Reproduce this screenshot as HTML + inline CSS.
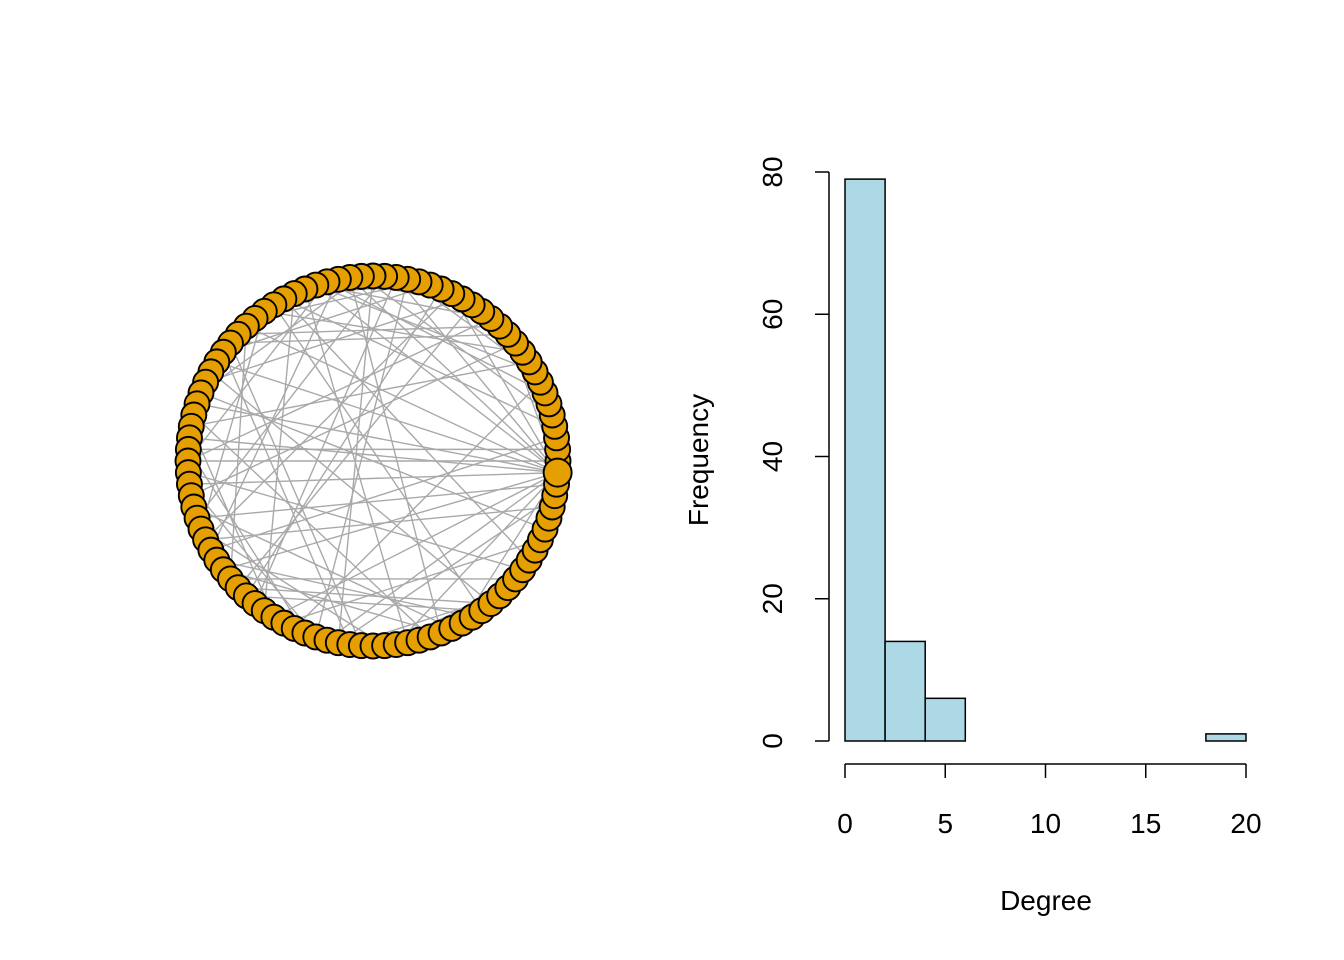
<!DOCTYPE html>
<html><head><meta charset="utf-8">
<style>
html,body{margin:0;padding:0;background:#fff;}
svg{display:block;font-family:"Liberation Sans",Arial,sans-serif;}
</style></head>
<body>
<svg id="chart" width="1344" height="960" viewBox="0 0 1344 960">
  <g id="net"></g>
  <g id="hist"></g>
  <text x="1046" y="910" font-size="28" text-anchor="middle">Degree</text>
  <text x="708" y="460" font-size="28" text-anchor="middle" transform="rotate(-90 708 460)">Frequency</text>
</svg>
<script>
// ---- network data ----
const nodeCount = 100;
const hubNode = 99;
const edges = [
[99,5],[99,12],[99,18],[99,23],[99,30],[99,37],[99,41],[99,48],[99,52],[99,60],[99,66],[99,71],[99,77],[99,83],[99,88],[99,92],[99,95],[99,45],[99,27],
[8,30],[10,35],[14,50],[16,62],[20,40],[22,70],[24,55],[26,44],[28,58],[3,33],[6,29],[9,47],[11,53],[13,38],[15,25],[17,43],[19,63],[21,36],
[31,78],[32,65],[34,85],[39,74],[42,86],[46,80],[49,69],[51,90],[54,82],[56,76],[57,96],[59,84],[61,89],[64,75],[67,93],[68,79],[72,97],[73,87],
[1,49],[2,58],[4,26],[7,68],[18,57],[23,64],[25,72],[27,81],[29,50],[33,91],[35,56],[37,61],[40,73],[44,94],[47,66],[52,70],[55,98],[60,81],[62,86],
[0,50],[12,39],[20,32],[14,30],[16,28],[24,34],[76,88],[78,90],[63,85],[8,22]
];
// ---- histogram data ----
const binEdges = [0,2,4,6,8,10,12,14,16,18,20];
const binCounts = [79,14,6,0,0,0,0,0,0,1];
const yTicks = [0,20,40,60,80];
const xTicks = [0,5,10,15,20];

const NS="http://www.w3.org/2000/svg";
function mk(tag,attrs,parent){const e=document.createElementNS(NS,tag);for(const k in attrs)e.setAttribute(k,attrs[k]);parent.appendChild(e);return e;}

const net=document.getElementById('net');
const cx=373, cy=461, R=185;
function pos(i){const a=2*Math.PI*i/nodeCount;return [cx+R*Math.cos(a), cy-R*Math.sin(a)];}
edges.forEach(([a,b])=>{
  const p=pos(a),q=pos(b);
  const l=mk('line',{x1:p[0],y1:p[1],x2:q[0],y2:q[1],stroke:'#a9a9a9','stroke-width':1.4},net);
  
  
});
for(let i=0;i<nodeCount;i++){
  const p=pos(i);
  const r = i===hubNode?14:12.5;
  const c=mk('circle',{cx:p[0],cy:p[1],r:r,fill:'#E69F00',stroke:'#000','stroke-width':1.9},net);
  
  
}

const h=document.getElementById('hist');
const x0=845,x1=1246,y0=741,y80=172;
const xs=v=>x0+(v-0)*(x1-x0)/20;
const ys=v=>y0-(v)*(y0-y80)/80;
binCounts.forEach((c,i)=>{
  const xa=xs(binEdges[i]),xb=xs(binEdges[i+1]);
  const r=mk('rect',{x:xa,y:ys(c),width:xb-xa,height:y0-ys(c),fill:'#ADD8E6',stroke:'#000','stroke-width':1.5},h);
  
  
});
const ya=mk('line',{x1:829,y1:ys(0),x2:829,y2:ys(80),stroke:'#000','stroke-width':1.5},h);


yTicks.forEach(v=>{
  const y=ys(v);
  const t=mk('line',{x1:815,y1:y,x2:829,y2:y,stroke:'#000','stroke-width':1.5},h);
  
  
  const tx=mk('text',{x:782,y:y,'font-size':28,'text-anchor':'middle',transform:`rotate(-90 782 ${y})`},h);
  tx.textContent=v;
  
  
});
const xa=mk('line',{x1:xs(0),y1:764,x2:xs(20),y2:764,stroke:'#000','stroke-width':1.5},h);


xTicks.forEach(v=>{
  const x=xs(v);
  const t=mk('line',{x1:x,y1:764,x2:x,y2:778,stroke:'#000','stroke-width':1.5},h);
  
  
  const tx=mk('text',{x:x,y:833,'font-size':28,'text-anchor':'middle'},h);
  tx.textContent=v;
  
  
});
</script>
</body></html>
